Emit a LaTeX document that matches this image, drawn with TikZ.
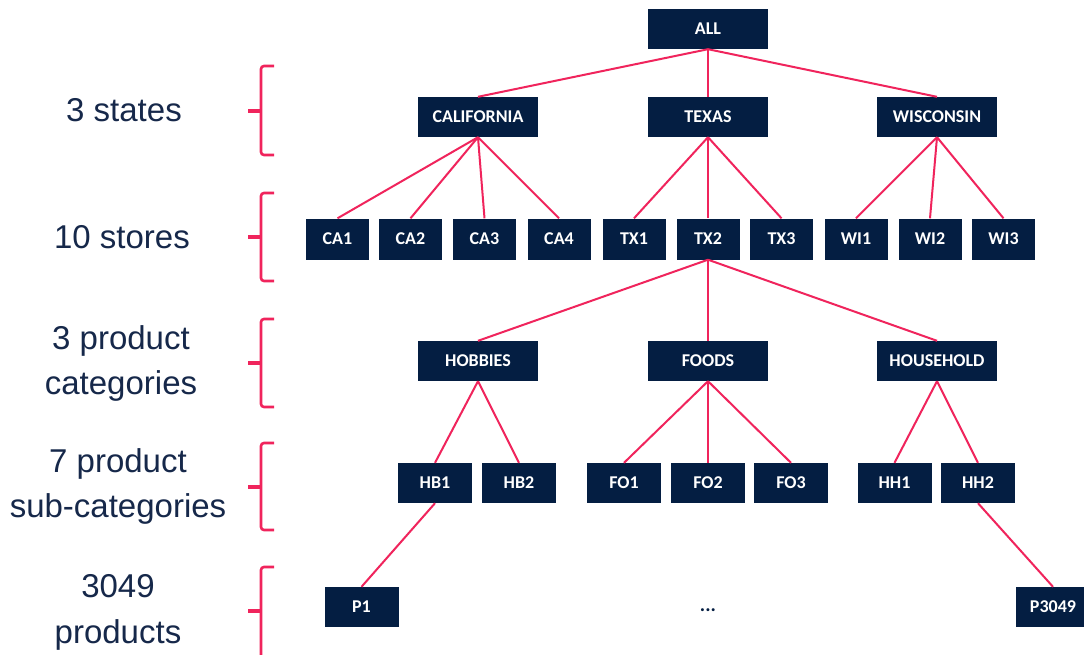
\documentclass[tikz,border=0pt]{standalone}
\usepackage{fontspec}
\setmainfont{Liberation Sans}
\newfontfamily\boxfont{Carlito}
\definecolor{navy}{RGB}{4,30,66}
\definecolor{labelnavy}{RGB}{22,40,74}
\definecolor{linkpink}{RGB}{240,36,92}
\begin{document}
\begin{tikzpicture}[x=1pt,y=-1pt,
  box/.style={fill=navy, text=white, inner sep=0pt, minimum height=40pt,
    font=\boxfont\bfseries\fontsize{18}{20}\selectfont},
  wide/.style={box, minimum width=120pt},
  store/.style={box, minimum width=63pt, minimum height=41pt},
  leaf/.style={box, minimum width=74pt},
  edge/.style={draw=linkpink, line width=2pt},
  bracket/.style={draw=linkpink, line width=2.6pt, rounded corners=3pt},
  level/.style={text=labelnavy, align=center, inner sep=0pt}
]
\useasboundingbox (0,0) rectangle (1084,654);
\clip (0,0) rectangle (1084,654);
\fill[white] (0,0) rectangle (1084,654);

% level captions
\node[level, font=\fontsize{33}{45}\selectfont] (l1) at (124,110) {3 states};
\node[level, font=\fontsize{33}{45}\selectfont] (l2) at (122,237) {10 stores};
\node[level, font=\fontsize{33}{45}\selectfont] (l3) at (121,363.5) {3 product\\categories};
\node[level, font=\fontsize{33}{45}\selectfont] (l4) at (118,486) {7 product\\sub-categories};
\node[level, font=\fontsize{33}{46}\selectfont] (l5) at (118,612) {3049\\products};

% brackets beside each level
\foreach \t/\m/\b in {66/111/155, 193/237/281, 319/363/407, 443/487/530, 567/611/660}{
  \draw[bracket] (274,\t) -- (261,\t) -- (261,\b) -- (274,\b);
  \draw[draw=linkpink, line width=3.2pt] (248,\m) -- (261,\m);
}

% hierarchy
\node[wide] (all) at (708,29) {ALL};

\node[wide] (ca) at (478,117) {CALIFORNIA};
\node[wide] (tx) at (708,117) {TEXAS};
\node[wide] (wi) at (937,117) {WISCONSIN};

\node[store] (ca1) at (337.5,239) {CA1};
\node[store] (ca2) at (410.5,239) {CA2};
\node[store] (ca3) at (484.5,239) {CA3};
\node[store] (ca4) at (559,239) {CA4};
\node[store] (tx1) at (634,239) {TX1};
\node[store] (tx2) at (708,239) {TX2};
\node[store] (tx3) at (781.5,239) {TX3};
\node[store] (wi1) at (856,239) {WI1};
\node[store] (wi2) at (930,239) {WI2};
\node[store] (wi3) at (1003.5,239) {WI3};

\node[wide] (hob) at (478,361) {HOBBIES};
\node[wide] (foo) at (708,361) {FOODS};
\node[wide] (hou) at (937,361) {HOUSEHOLD};

\node[leaf] (hb1) at (435,483) {HB1};
\node[leaf] (hb2) at (519,483) {HB2};
\node[leaf] (fo1) at (624,483) {FO1};
\node[leaf] (fo2) at (708,483) {FO2};
\node[leaf] (fo3) at (791,483) {FO3};
\node[leaf] (hh1) at (894.5,483) {HH1};
\node[leaf] (hh2) at (978,483) {HH2};

\node[leaf] (p1) at (361.5,607) {P1};
\node[leaf] (p3049) at (1053,607) {P3049};
\node[text=navy, inner sep=0pt, font=\boxfont\bfseries\fontsize{20}{20}\selectfont] (dots) at (708,610) {...};

% connectors
\foreach \p/\c in {all/ca, all/tx, all/wi,
    ca/ca1, ca/ca2, ca/ca3, ca/ca4,
    tx/tx1, tx/tx2, tx/tx3,
    wi/wi1, wi/wi2, wi/wi3,
    tx2/hob, tx2/foo, tx2/hou,
    hob/hb1, hob/hb2,
    foo/fo1, foo/fo2, foo/fo3,
    hou/hh1, hou/hh2,
    hb1/p1, hh2/p3049}{
  \draw[edge] (\p.south) -- (\c.north);
}
\end{tikzpicture}
\end{document}
